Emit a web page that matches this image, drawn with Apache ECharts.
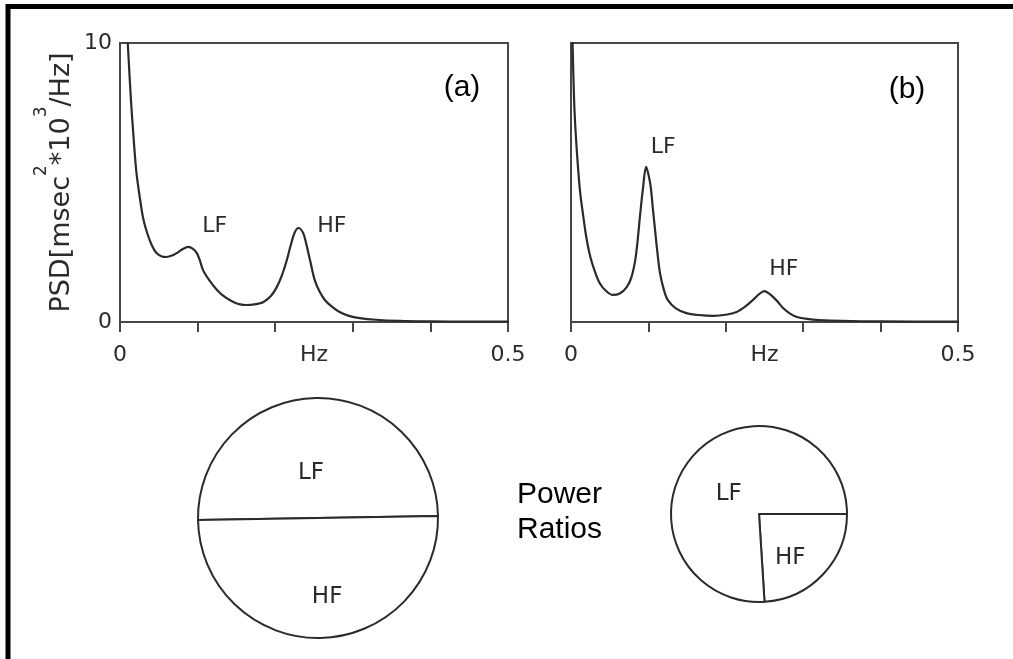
<!DOCTYPE html>
<html>
<head>
<meta charset="utf-8">
<script src="https://cdn.jsdelivr.net/npm/echarts@6/dist/echarts.min.js"></script>
<style>
html,body{margin:0;padding:0;background:#fff;}
#c{width:1013px;height:659px;}
</style>
</head>
<body>
<div id="c"></div>
<script>
// Spectrum (a): [Hz, PSD]
var spectrumA = [
  [0.010,10.0],[0.014,8.0],[0.017,6.8],[0.021,5.4],[0.026,4.37],[0.030,3.7],[0.035,3.19],
  [0.041,2.75],[0.047,2.47],[0.054,2.35],[0.060,2.33],[0.067,2.38],[0.073,2.47],[0.080,2.6],
  [0.088,2.69],[0.094,2.62],[0.099,2.47],[0.103,2.2],[0.107,1.86],[0.115,1.5],[0.125,1.15],
  [0.135,0.9],[0.146,0.72],[0.155,0.63],[0.163,0.61],[0.173,0.63],[0.185,0.72],[0.195,0.95],
  [0.202,1.25],[0.209,1.7],[0.215,2.22],[0.220,2.75],[0.225,3.2],[0.230,3.37],[0.236,3.19],
  [0.240,2.8],[0.245,2.2],[0.251,1.5],[0.257,1.1],[0.264,0.79],[0.273,0.55],[0.283,0.36],
  [0.295,0.22],[0.309,0.14],[0.330,0.08],[0.360,0.04],[0.400,0.02],[0.450,0.01],[0.500,0.01]
];
// Spectrum (b): [Hz, PSD]
var spectrumB = [
  [0.002,10.0],[0.004,7.96],[0.006,6.8],[0.009,5.56],[0.012,4.6],[0.016,3.76],[0.020,3.0],
  [0.025,2.33],[0.031,1.8],[0.037,1.40],[0.045,1.12],[0.054,0.97],[0.063,1.02],[0.072,1.25],
  [0.078,1.6],[0.083,2.22],[0.086,2.9],[0.089,3.76],[0.093,4.8],[0.097,5.56],[0.100,5.3],
  [0.103,4.84],[0.106,4.0],[0.109,3.19],[0.112,2.4],[0.115,1.75],[0.120,1.15],[0.125,0.79],
  [0.135,0.5],[0.149,0.32],[0.165,0.25],[0.184,0.22],[0.200,0.26],[0.214,0.36],[0.225,0.55],
  [0.235,0.79],[0.243,1.0],[0.250,1.11],[0.256,1.02],[0.261,0.9],[0.268,0.7],[0.274,0.5],
  [0.283,0.3],[0.292,0.18],[0.305,0.11],[0.321,0.07],[0.350,0.04],[0.400,0.02],[0.500,0.01]
];
// Peak annotations: [Hz, PSD, text]
var peakLabelsA = [[0.122,3.44,'LF'],[0.273,3.44,'HF']];
var peakLabelsB = [[0.119,6.27,'LF'],[0.275,1.90,'HF']];
// Power ratios (%)
var ratioNamesA = ['LF','HF'];
var ratioA = [50, 50];
var ratioNamesB = ['HF','LF'];
var ratioB = [24, 76];
// Tick labels
var xLabelValues = [0, 0.5];
var xLabelTexts = ['0', '0.5'];
var yLabelValues = [0, 10];
var yLabelTexts = ['0', '10'];
var xName = 'Hz';
var panelTags = ['(a)', '(b)'];

var INK = '#2b2b2b';
var AX = '#474747';
var FONT = 'DejaVu Sans';

function xLabelFmt(v){
  for (var i=0;i<xLabelValues.length;i++){ if (Math.abs(v-xLabelValues[i])<1e-9) return xLabelTexts[i]; }
  return '';
}
function yLabelFmt(v){
  for (var i=0;i<yLabelValues.length;i++){ if (Math.abs(v-yLabelValues[i])<1e-9) return yLabelTexts[i]; }
  return '';
}
function xAxisOf(idx){
  return {
    type:'value', gridIndex:idx, min:0, max:0.5, interval:0.1,
    name:xName, nameLocation:'middle', nameGap:22, nameMoveOverlap:false,
    nameTextStyle:{fontFamily:FONT, fontSize:22, color:INK},
    axisLine:{show:true, onZero:false, lineStyle:{color:AX, width:2}},
    axisTick:{show:true, inside:false, length:10, lineStyle:{color:AX, width:2}},
    axisLabel:{show:true, margin:22, fontFamily:FONT, fontSize:22, color:INK, formatter:xLabelFmt, showMinLabel:true, showMaxLabel:true},
    splitLine:{show:false}
  };
}
function yAxisOf(idx, showLabels){
  var a = {
    type:'value', gridIndex:idx, min:0, max:10, interval:10,
    axisLine:{show:true, lineStyle:{color:AX, width:2}},
    axisTick:{show:false},
    axisLabel:{show:showLabels, margin:8, fontFamily:FONT, fontSize:22, color:INK, formatter:yLabelFmt},
    splitLine:{show:false}
  };
  if (showLabels){
    a.name = 'PSD[msec{sup|2}*10{sup|3}/Hz]';
    a.nameLocation = 'middle';
    a.nameRotate = 90;
    a.nameGap = 29;
    a.nameMoveOverlap = false;
    a.nameTextStyle = {fontFamily:FONT, fontSize:27, color:INK, lineHeight:58,
      rich:{sup:{fontFamily:FONT, fontSize:17, color:INK, verticalAlign:'top', lineHeight:17}}};
  }
  return a;
}
function lineSeries(idx, data, labels){
  return {
    type:'line', xAxisIndex:idx, yAxisIndex:idx, data:data,
    smooth:0.3, showSymbol:false, symbol:'none', clip:true,
    lineStyle:{color:INK, width:2.2, join:'round', cap:'round'}, silent:true, animation:false,
    markPoint:{
      symbol:'circle', symbolSize:1, silent:true, animation:false,
      itemStyle:{color:'rgba(0,0,0,0)'},
      label:{show:true, position:'inside', formatter:'{b}', fontFamily:FONT, fontSize:22, color:INK},
      data: labels.map(function(p){ return {name:p[2], coord:[p[0],p[1]]}; })
    }
  };
}
function pieSeries(center, radius, names, values, startAngle, shifts){
  return {
    type:'pie', center:center, radius:[0, radius], startAngle:startAngle, clockwise:true,
    silent:true, animation:false, avoidLabelOverlap:false,
    itemStyle:{color:'#ffffff', borderColor:INK, borderWidth:2},
    label:{show:true, position:'inside', formatter:'{b}', fontFamily:FONT, fontSize:23, color:INK},
    labelLine:{show:false},
    labelLayout:function(p){ var s = shifts[p.dataIndex]; return {dx:s[0], dy:s[1]}; },
    emphasis:{disabled:true},
    data: values.map(function(v,i){ return {name:names[i], value:v}; })
  };
}

var chart = echarts.init(document.getElementById('c'), null, {renderer:'canvas'});
chart.setOption({
  backgroundColor:'#ffffff',
  animation:false,
  grid:[
    {left:120, top:43, width:388, height:279, show:true, borderColor:AX, borderWidth:2, backgroundColor:'transparent'},
    {left:571, top:43, width:387, height:279, show:true, borderColor:AX, borderWidth:2, backgroundColor:'transparent'}
  ],
  xAxis:[xAxisOf(0), xAxisOf(1)],
  yAxis:[yAxisOf(0,true), yAxisOf(1,false)],
  series:[
    lineSeries(0, spectrumA, peakLabelsA),
    lineSeries(1, spectrumB, peakLabelsB),
    pieSeries([318,518], 120, ratioNamesA, ratioA, 181, [[-6,18],[8,16]]),
    pieSeries([759,514], 88, ratioNamesB, ratioB, 0, [[-3,12],[4,12]])
  ],
  graphic:[
    {type:'rect', silent:true, shape:{x:8, y:6.5, width:1100, height:800}, style:{fill:'none', stroke:'#000', lineWidth:5}},
    {type:'text', silent:true, x:462, y:88, style:{text:panelTags[0], font:'30px "Liberation Sans", Arial, sans-serif', fill:'#000', align:'center', verticalAlign:'middle', textAlign:'center', textVerticalAlign:'middle'}},
    {type:'text', silent:true, x:907, y:90, style:{text:panelTags[1], font:'30px "Liberation Sans", Arial, sans-serif', fill:'#000', align:'center', verticalAlign:'middle', textAlign:'center', textVerticalAlign:'middle'}},
    {type:'text', silent:true, x:517, y:512, style:{text:'Power\nRatios', font:'30px "Liberation Sans", Arial, sans-serif', lineHeight:35, fill:'#000', align:'left', verticalAlign:'middle', textAlign:'left', textVerticalAlign:'middle'}}
  ]
});
</script>
</body>
</html>
